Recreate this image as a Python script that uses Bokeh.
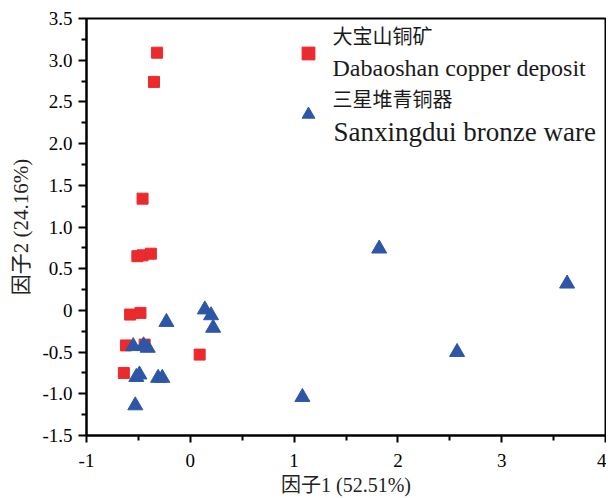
from bokeh.plotting import figure
from bokeh.models import Legend, LegendItem, Label, FixedTicker
from bokeh.embed import file_html
from bokeh.resources import INLINE

# Data
dbs_x = [-0.32, -0.35, -0.46, -0.51, -0.46, -0.38, -0.58, -0.48, -0.62, -0.44, -0.64, 0.09]
dbs_y = [3.09, 2.74, 1.34, 0.65, 0.66, 0.68, -0.05, -0.03, -0.42, -0.41, -0.75, -0.53]
sxd_x = [-0.55, -0.45, -0.41, -0.23, -0.52, -0.49, -0.31, -0.27, -0.53, 0.14, 0.20, 0.22, 1.08, 1.82, 2.57, 3.63]
sxd_y = [-0.43, -0.42, -0.45, -0.14, -0.80, -0.77, -0.81, -0.81, -1.14, 0.01, -0.06, -0.21, -1.04, 0.74, -0.50, 0.32]

x_ticks = [-1, 0, 1, 2, 3, 4]
x_tick_labels = ["-1", "0", "1", "2", "3", "4"]
x_minor = [-0.5, 0.5, 1.5, 2.5, 3.5]
y_ticks = [-1.5, -1.0, -0.5, 0.0, 0.5, 1.0, 1.5, 2.0, 2.5, 3.0, 3.5]
y_tick_labels = ["-1.5", "-1.0", "-0.5", "0", "0.5", "1.0", "1.5", "2.0", "2.5", "3.0", "3.5"]
y_minor = [-1.25, -0.75, -0.25, 0.25, 0.75, 1.25, 1.75, 2.25, 2.75, 3.25]

legend_cn = ["大宝山铜矿", "三星堆青铜器"]
legend_en = ["Dabaoshan copper deposit", "Sanxingdui bronze ware"]
x_label = "因子1 (52.51%)"
y_label = "因子2 (24.16%)"

RED = "#EA2A2C"
BLUE = "#2E56A6"
SERIF = "Liberation Serif"
CJK = "Noto Sans CJK SC"
MIXED = "Liberation Serif, Noto Sans CJK SC"

p = figure(width=606, height=498, output_backend="svg", toolbar_location=None,
           x_range=(-1, 4), y_range=(-1.5, 3.5),
           min_border_left=86, min_border_right=1, min_border_top=18, min_border_bottom=61)
p.grid.visible = False
p.outline_line_color = "black"
p.outline_line_width = 2
p.background_fill_color = "white"

r1 = p.scatter(dbs_x, dbs_y, marker="square", size=11, fill_color=RED, line_color=RED)
r2 = p.scatter(sxd_x, sxd_y, marker="triangle", size=15, fill_color=BLUE, line_color=BLUE)

for ax in (p.xaxis[0], p.yaxis[0]):
    ax.axis_line_width = 2
    ax.major_tick_line_width = 2
    ax.minor_tick_line_width = 2
    ax.major_tick_in = 0
    ax.minor_tick_in = 0
    ax.major_label_text_font = SERIF
    ax.major_label_text_font_size = "19px"
    ax.major_label_text_color = "black"
    ax.axis_label_text_font = MIXED
    ax.axis_label_text_font_size = "20px"
    ax.axis_label_text_font_style = "normal"
    ax.axis_label_text_color = "#222222"

p.xaxis[0].ticker = FixedTicker(ticks=x_ticks, minor_ticks=x_minor)
p.xaxis[0].major_label_overrides = dict(zip(x_ticks, x_tick_labels))
p.xaxis[0].major_tick_out = 7
p.xaxis[0].minor_tick_out = 5
p.xaxis[0].major_label_standoff = 11
p.xaxis[0].axis_label = x_label
p.xaxis[0].axis_label_standoff = 4

p.yaxis[0].ticker = FixedTicker(ticks=y_ticks, minor_ticks=y_minor)
p.yaxis[0].major_label_overrides = dict(zip(y_ticks, y_tick_labels))
p.yaxis[0].major_tick_out = 8
p.yaxis[0].minor_tick_out = 5
p.yaxis[0].major_label_standoff = 6
p.yaxis[0].axis_label = y_label
p.yaxis[0].axis_label_standoff = 6
p.yaxis[0].axis_label_text_font_size = "21px"

legend = Legend(items=[LegendItem(label=" ", renderers=[r1]),
                       LegendItem(label=" ", renderers=[r2])],
                location=(206, 305), orientation="vertical",
                glyph_width=32, glyph_height=32, label_height=32,
                spacing=29, padding=0, margin=0,
                border_line_color=None, background_fill_alpha=0,
                label_text_font_size="4px")
p.add_layout(legend, "center")

p.add_layout(Label(x=246, y=400, x_units="screen", y_units="screen", text=legend_cn[0],
                   text_font=CJK, text_font_size="20px", text_baseline="middle", text_color="#1a1a1a"))
p.add_layout(Label(x=246, y=368, x_units="screen", y_units="screen", text=legend_en[0],
                   text_font=SERIF, text_font_size="24px", text_baseline="alphabetic", text_color="#1a1a1a"))
p.add_layout(Label(x=246, y=337, x_units="screen", y_units="screen", text=legend_cn[1],
                   text_font=CJK, text_font_size="20px", text_baseline="middle", text_color="#1a1a1a"))
p.add_layout(Label(x=247, y=304, x_units="screen", y_units="screen", text=legend_en[1],
                   text_font=SERIF, text_font_size="27px", text_baseline="alphabetic", text_color="#1a1a1a"))

open("out.html", "w").write(file_html(p, INLINE))
